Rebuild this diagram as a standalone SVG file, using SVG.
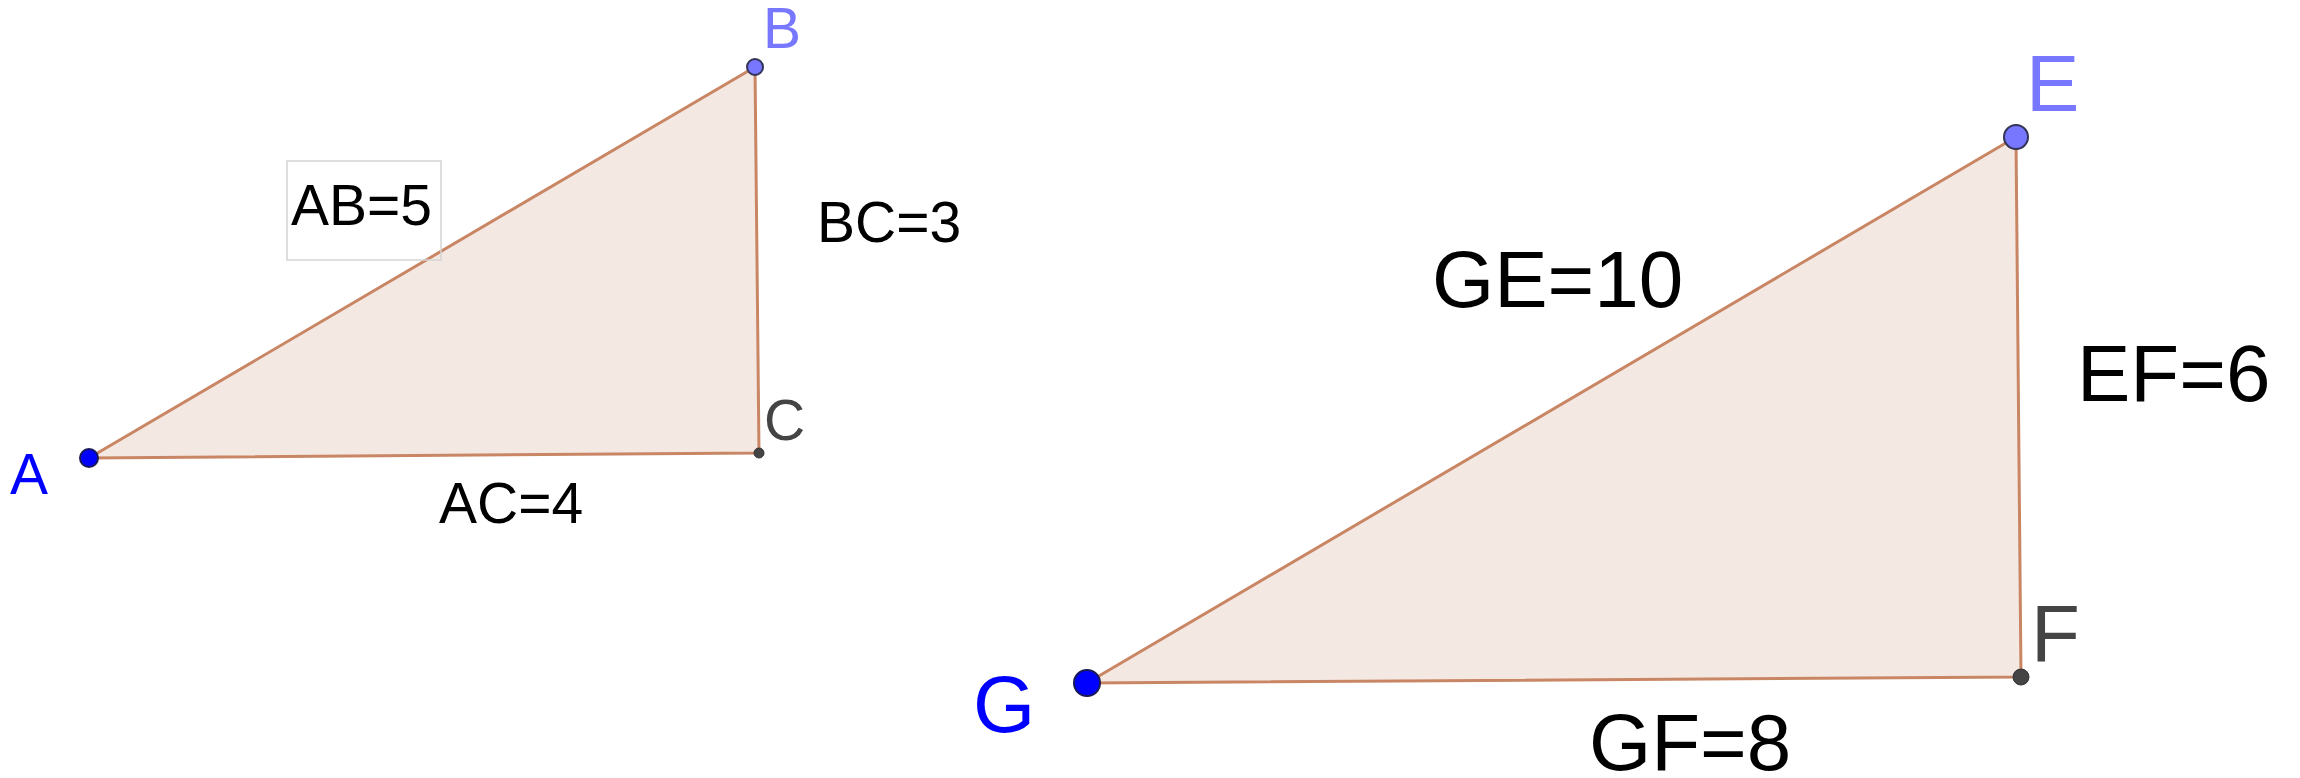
<svg xmlns="http://www.w3.org/2000/svg" width="2300" height="778" viewBox="0 0 2300 778">
<style>
.tri{fill:#f4e8e3;stroke:#c98664;stroke-width:3;stroke-linejoin:round}
text{font-family:"Liberation Sans",Arial,sans-serif}
.s{font-size:57px;fill:#000}
.l{font-size:80px;fill:#000}
.ptA{fill:#0000ff;stroke:#1a1a5a;stroke-width:2}
.ptB{fill:#7777ff;stroke:#333355;stroke-width:2}
.ptC{fill:#444;stroke:#333;stroke-width:1}
</style>
<rect width="2300" height="778" fill="#fff"/>
<g id="triangle-ABC">
<polygon class="tri" points="89,458 755,67 759,453"/>
<rect x="287" y="161" width="154" height="99" fill="none" stroke="#d4d4d4" stroke-width="1.5"/>
<text class="s" x="291" y="225">AB=5</text>
<text class="s" x="817" y="242">BC=3</text>
<text class="s" x="439" y="523">AC=4</text>
</g>
<g id="point-A">
<circle class="ptA" cx="89" cy="458" r="9"/>
<text x="10" y="494" font-size="57" fill="#0000ff">A</text>
</g>
<g id="point-B">
<circle class="ptB" cx="755" cy="67" r="8"/>
<text x="763" y="48" font-size="57" fill="#7777ff">B</text>
</g>
<g id="point-C">
<circle class="ptC" cx="759" cy="453" r="5"/>
<text x="764" y="440" font-size="57" fill="#444">C</text>
</g>
<g id="triangle-GEF">
<polygon class="tri" points="1087,683 2016,137 2021,677"/>
<text class="l" x="1432" y="307">GE=10</text>
<text class="l" x="2077" y="401">EF=6</text>
<text class="l" x="1589" y="770">GF=8</text>
</g>
<g id="point-G">
<circle class="ptA" cx="1087" cy="683" r="13"/>
<text x="973" y="732" font-size="80" fill="#0000ff">G</text>
</g>
<g id="point-E">
<circle class="ptB" cx="2016" cy="137" r="12"/>
<text x="2026" y="111" font-size="80" fill="#7777ff">E</text>
</g>
<g id="point-F">
<circle class="ptC" cx="2021" cy="677" r="8"/>
<text x="2031" y="661" font-size="80" fill="#444">F</text>
</g>
<g id="connectors"></g>
</svg>
